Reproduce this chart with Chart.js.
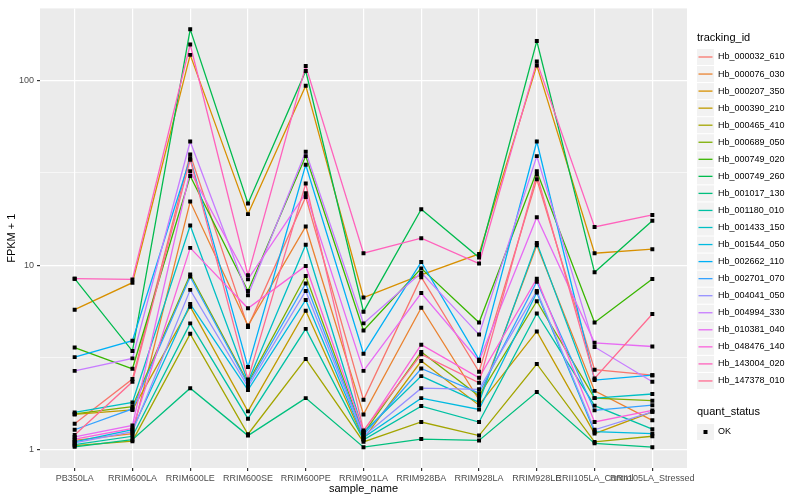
<!DOCTYPE html>
<html>
<head>
<meta charset="utf-8">
<script src="https://cdn.jsdelivr.net/npm/chart.js@4.4.0/dist/chart.umd.min.js"></script>
<style>
  html, body { margin: 0; padding: 0; background: #fff; }
  #wrap { width: 800px; height: 500px; }
</style>
</head>
<body>
<div id="wrap"><canvas id="myChart" width="800" height="500"></canvas></div>
<script>
const sampleNames = ["PB350LA", "RRIM600LA", "RRIM600LE", "RRIM600SE", "RRIM600PE", "RRIM901LA",
  "RRIM928BA", "RRIM928LA", "RRIM928LE", "RRII105LA_Control", "RRII105LA_Stressed"];

const trackingIds = ["Hb_000032_610", "Hb_000076_030", "Hb_000207_350", "Hb_000390_210", "Hb_000465_410",
  "Hb_000689_050", "Hb_000749_020", "Hb_000749_260", "Hb_001017_130", "Hb_001180_010",
  "Hb_001433_150", "Hb_001544_050", "Hb_002662_110", "Hb_002701_070", "Hb_004041_050",
  "Hb_004994_330", "Hb_010381_040", "Hb_048476_140", "Hb_143004_020", "Hb_147378_010"];

const seriesColors = ["#F8766D", "#EA8331", "#D89000", "#C09B00", "#A3A500", "#7CAE00", "#39B600", "#00BB4E",
  "#00BF7D", "#00C1A3", "#00BFC4", "#00BAE0", "#00B0F6", "#35A2FF", "#9590FF", "#C77CFF",
  "#E76BF3", "#FA62DB", "#FF62BC", "#FF6C91"];

// FPKM + 1, one array per tracking_id, in sampleNames order
const hb_000032_610 = [1.38, 2.41, 39.8, 4.61, 23.4, 1.86, 8.6, 2.64, 29.2, 2.71, 2.53];
const hb_000076_030 = [1.12, 1.22, 22.1, 4.70, 16.2, 1.55, 5.87, 1.86, 12.8, 2.08, 1.44];
const hb_000207_350 = [5.73, 8.03, 138, 18.9, 94, 6.67, 8.85, 11.5, 121, 11.6, 12.2];
const hb_000390_210 = [1.55, 1.64, 5.95, 1.61, 5.66, 1.14, 3.02, 1.74, 4.37, 1.22, 1.60];
const hb_000465_410 = [1.05, 1.11, 4.24, 1.21, 3.10, 1.10, 1.41, 1.19, 2.91, 1.10, 1.18];
const hb_000689_050 = [1.56, 1.71, 8.9, 2.30, 8.73, 1.22, 3.38, 1.95, 6.37, 1.90, 1.84];
const hb_000749_020 = [3.57, 2.74, 30.4, 7.24, 39, 4.42, 9.6, 4.88, 32.3, 4.88, 8.4];
const hb_000749_260 = [8.44, 3.42, 190, 21.6, 113, 5.59, 20.1, 11.0, 164, 9.14, 17.4];
const hb_001017_130 = [1.034, 1.13, 2.15, 1.19, 1.90, 1.03, 1.14, 1.12, 2.05, 1.08, 1.03];
const hb_001180_010 = [1.064, 1.18, 4.83, 1.47, 4.51, 1.13, 1.72, 1.41, 5.47, 1.73, 1.29];
const hb_001433_150 = [1.59, 1.80, 16.4, 2.33, 12.9, 1.24, 2.50, 1.80, 13.2, 1.90, 2.0];
const hb_001544_050 = [1.10, 1.28, 6.15, 2.10, 6.47, 1.16, 1.90, 1.65, 7.1, 1.25, 1.22];
const hb_002662_110 = [3.17, 3.89, 38, 2.80, 35, 3.31, 10.4, 3.07, 46.8, 2.38, 2.53];
const hb_002701_070 = [1.28, 1.66, 8.66, 2.26, 7.95, 1.20, 2.75, 2.02, 8.13, 1.63, 1.74];
const hb_004041_050 = [1.086, 1.25, 7.34, 2.19, 7.24, 1.18, 2.15, 2.12, 7.24, 1.28, 1.60];
const hb_004994_330 = [2.67, 3.12, 46.8, 6.87, 41.2, 4.83, 9.1, 4.20, 39, 3.60, 2.33];
const hb_010381_040 = [1.17, 1.35, 32.3, 8.37, 24.5, 2.67, 7.06, 3.02, 18.2, 3.79, 3.62];
const hb_048476_140 = [1.14, 1.30, 12.4, 5.83, 9.9, 1.25, 3.70, 2.45, 8.44, 1.41, 1.63];
const hb_143004_020 = [8.44, 8.37, 157, 8.82, 120, 11.6, 14.0, 10.2, 127, 16.1, 18.7];
const hb_147378_010 = [1.20, 2.33, 37.3, 2.40, 27.7, 1.27, 3.28, 2.30, 31, 2.43, 5.43];

const seriesValues = [hb_000032_610, hb_000076_030, hb_000207_350, hb_000390_210, hb_000465_410,
  hb_000689_050, hb_000749_020, hb_000749_260, hb_001017_130, hb_001180_010,
  hb_001433_150, hb_001544_050, hb_002662_110, hb_002701_070, hb_004041_050,
  hb_004994_330, hb_010381_040, hb_048476_140, hb_143004_020, hb_147378_010];

const yTickValues = [1, 10, 100];
const yTickLabels = ["1", "10", "100"];
const yMinorValues = [3.1623, 31.623];
const quantStatus = ["OK"];

const FONT = "'Liberation Sans', Arial, sans-serif";

const lineSets = seriesValues.map((vals, s) => ({
  type: "line",
  label: trackingIds[s],
  data: vals.map((v, i) => ({ x: i, y: v })),
  borderColor: seriesColors[s],
  borderWidth: 1.3,
  pointRadius: 0,
  fill: false,
  tension: 0,
  order: 20 - s,
}));

// points layer on top, like geom_point after geom_line
const pointSet = {
  type: "scatter",
  label: quantStatus[0],
  data: seriesValues.flatMap((vals) => vals.map((v, i) => ({ x: i, y: v }))),
  pointStyle: "rect",
  pointRadius: 2.8,
  pointBackgroundColor: "#000",
  pointBorderWidth: 0,
  showLine: false,
  order: 0,
};

const ggPlugin = {
  id: "ggPlugin",
  beforeDraw(chart) {
    const { ctx, chartArea: a } = chart;
    ctx.save();
    ctx.fillStyle = "#fff";
    ctx.fillRect(0, 0, chart.width, chart.height);
    ctx.fillStyle = "#EBEBEB";
    ctx.fillRect(a.left, a.top, a.right - a.left, a.bottom - a.top);
    ctx.restore();
  },
  afterDraw(chart) {
    const { ctx, chartArea: a } = chart;
    ctx.save();
    ctx.fillStyle = "#000";
    ctx.font = "11px " + FONT;
    ctx.textAlign = "center";
    ctx.textBaseline = "middle";
    ctx.fillText("sample_name", (a.left + a.right) / 2, 489);
    ctx.save();
    ctx.translate(12, (a.top + a.bottom) / 2);
    ctx.rotate(-Math.PI / 2);
    ctx.fillText("FPKM + 1", 0, 0);
    ctx.restore();

    // legend
    const lx = 697, y0 = 57, step = 17.05;
    ctx.textAlign = "left";
    ctx.font = "11px " + FONT;
    ctx.fillText("tracking_id", lx, 38);
    ctx.font = "9px " + FONT;
    trackingIds.forEach((id, i) => {
      const cy = y0 + i * step;
      ctx.fillStyle = "#F2F2F2";
      ctx.fillRect(lx, cy - 8, 17, 16);
      ctx.strokeStyle = seriesColors[i];
      ctx.lineWidth = 1.3;
      ctx.beginPath();
      ctx.moveTo(lx + 1.5, cy);
      ctx.lineTo(lx + 15.5, cy);
      ctx.stroke();
      ctx.fillStyle = "#000";
      ctx.fillText(id, lx + 21, cy);
    });
    ctx.font = "11px " + FONT;
    ctx.fillText("quant_status", lx, 412);
    const cy = 432;
    ctx.fillStyle = "#F2F2F2";
    ctx.fillRect(lx, cy - 8, 17, 16);
    ctx.fillStyle = "#000";
    ctx.fillRect(lx + 6.5, cy - 2, 4, 4);
    ctx.font = "9px " + FONT;
    ctx.fillText(quantStatus[0], lx + 21, cy);
    ctx.restore();
  },
};

new Chart(document.getElementById("myChart").getContext("2d"), {
  data: { datasets: [pointSet, ...lineSets] },
  options: {
    responsive: false,
    animation: false,
    devicePixelRatio: 1,
    layout: { padding: { top: 5, right: 113, left: 0, bottom: 0 } },
    plugins: { legend: { display: false }, tooltip: { enabled: false } },
    scales: {
      x: {
        type: "linear",
        min: -0.6,
        max: 10.6,
        afterBuildTicks: (scale) => {
          scale.ticks = sampleNames.map((n, i) => ({ value: i }));
        },
        afterFit: (scale) => { scale.height = 32; },
        grid: { color: "#fff", lineWidth: 1.2, tickColor: "#333", tickLength: 3, drawTicks: true },
        border: { display: false },
        ticks: {
          autoSkip: false,
          maxRotation: 0,
          minRotation: 0,
          padding: 2,
          color: "#4D4D4D",
          font: { family: FONT, size: 9 },
          callback: (v) => sampleNames[v] ?? "",
        },
      },
      y: {
        type: "logarithmic",
        min: 0.794,
        max: 246.6,
        bounds: "data",
        afterBuildTicks: (scale) => {
          scale.ticks = [...yTickValues, ...yMinorValues].sort((p, q) => p - q).map((v) => ({ value: v }));
        },
        afterFit: (scale) => { scale.width = 40; },
        grid: {
          color: "#fff",
          lineWidth: (c) => (yTickValues.includes(c.tick?.value) ? 1.2 : 0.6),
          tickColor: (c) => (yTickValues.includes(c.tick?.value) ? "#333" : "rgba(0,0,0,0)"),
          tickLength: 3,
          drawTicks: true,
        },
        border: { display: false },
        ticks: {
          padding: 3,
          color: "#4D4D4D",
          font: { family: FONT, size: 9 },
          callback: (v) => {
            const k = yTickValues.indexOf(v);
            return k >= 0 ? yTickLabels[k] : "";
          },
        },
      },
    },
  },
  plugins: [ggPlugin],
});
</script>
</body>
</html>
